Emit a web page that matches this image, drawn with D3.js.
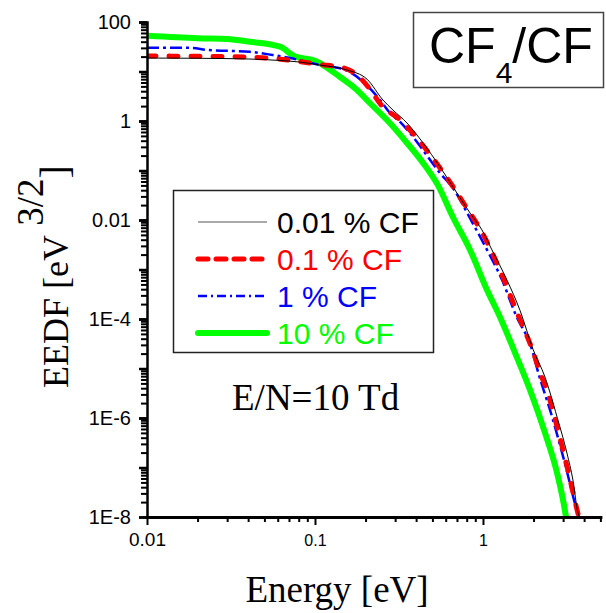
<!DOCTYPE html>
<head>
<meta charset="utf-8">

<script src="https://cdn.jsdelivr.net/npm/d3@7"></script>

<style>
body { margin: 0; background: #fff; }

.axis path,
.axis line {
    fill: none;
    stroke: #000;
}

.curve {
    fill: none;
}
</style>
<body>

<div id="my_dataviz"></div>

<script>

// EEDF curves (energy in eV, EEDF in eV^-3/2)
var energy001 = [0.01, 0.02, 0.04, 0.06, 0.08, 0.107, 0.155, 0.204, 0.254, 0.291, 0.353, 0.44, 0.555, 0.70, 0.838, 0.986, 1.13, 1.39, 1.66, 1.99, 2.34, 2.76, 3.16, 3.43, 3.68, 3.76];
var eedf001   = [18.7, 18.5, 17.9, 16.8, 15.6, 13.5, 10.7, 7.0, 2.65, 1.67, 0.91, 0.36, 0.118, 0.035, 0.0138, 6.3e-3, 2.5e-3, 6.1e-4, 1.5e-4, 2.4e-5, 6.7e-6, 1.05e-6, 1.96e-7, 5.6e-8, 1.2e-8, 1e-8];

var energy01 = [0.01, 0.02, 0.04, 0.06, 0.08, 0.107, 0.141, 0.178, 0.212, 0.248, 0.321, 0.394, 0.555, 0.653, 0.76, 1.03, 1.30, 1.59, 1.99, 2.18, 2.40, 2.79, 3.2, 3.63, 3.72];
var eedf01   = [20.5, 20.3, 19.5, 18.0, 16.0, 13.8, 12.3, 8.5, 4.43, 2.1, 1.05, 0.50, 0.112, 0.051, 0.023, 4.3e-3, 7.7e-4, 1.38e-4, 2.15e-5, 8.5e-6, 3.7e-6, 5.8e-7, 8.9e-8, 1.4e-8, 1e-8];

var energy1 = [0.01, 0.018, 0.023, 0.041, 0.056, 0.071, 0.107, 0.147, 0.244, 0.279, 0.321, 0.367, 0.555, 0.662, 0.861, 1.057, 1.30, 1.55, 1.99, 2.1, 2.58, 3.07, 3.67, 3.74];
var eedf1   = [30.3, 30.0, 27.2, 25.0, 21.5, 18.7, 13.5, 11.2, 2.65, 1.45, 0.955, 0.573, 0.089, 0.044, 9.1e-3, 2.5e-3, 6.1e-4, 1.32e-4, 2.0e-5, 1.0e-5, 1.05e-6, 1.23e-7, 1.2e-8, 1e-8];

var energy10 = [0.01, 0.02, 0.03, 0.041, 0.062, 0.074, 0.103, 0.141, 0.178, 0.212, 0.279, 0.353, 0.44, 0.54, 0.662, 0.838, 1.057, 1.262, 1.59, 1.905, 2.34, 2.76, 3.07, 3.12];
var eedf10   = [52.8, 47.0, 45.5, 40.0, 31.7, 21.0, 15.8, 7.74, 4.23, 2.31, 0.912, 0.36, 0.142, 0.05, 0.0115, 2.48e-3, 3.86e-4, 1.1e-4, 1.7e-5, 3.7e-6, 5.0e-7, 7.8e-8, 1.4e-8, 1e-8];

var seriesNames = ["0.01 % CF", "0.1 % CF", "1 % CF", "10 % CF"];

// tick labels
var xTickValues = [0.01, 0.1, 1];
var xTickLabels = ["0.01", "0.1", "1"];
var yTickValues = [100, 1, 0.01, 1e-4, 1e-6, 1e-8];
var yTickLabels = ["100", "1", "0.01", "1E-4", "1E-6", "1E-8"];

// line styles per series
var styles = [
    {color: "#000000", width: 1,   dash: null,       legendDash: null},
    {color: "#ff0000", width: 5,   dash: "9,13",     legendDash: "10,8"},
    {color: "#0000ff", width: 2.5, dash: "12,4,3,4", legendDash: "9,4,2,4"},
    {color: "#00ff00", width: 6,   dash: null,       legendDash: null}
];

var series = [
    {energy: energy001, eedf: eedf001},
    {energy: energy01,  eedf: eedf01},
    {energy: energy1,   eedf: eedf1},
    {energy: energy10,  eedf: eedf10}
];

var width = 606, height = 613;

// scales (log-log)
var x = d3.scaleLog().domain([0.01, 5]).range([147, 600.4]);
var y = d3.scaleLog().domain([1e-8, 100]).range([517, 22]);

var svg = d3.select("#my_dataviz").append("svg")
    .attr("width", width)
    .attr("height", height);

// clip so the curves stop at the axes
svg.append("defs").append("clipPath")
    .attr("id", "clip")
  .append("rect")
    .attr("x", 148)
    .attr("y", 10)
    .attr("width", 460)
    .attr("height", 506);

var line = d3.line()
    .x(function(d) { return x(d[0]); })
    .y(function(d) { return y(d[1]); })
    .curve(d3.curveMonotoneX);

// draw curves, the thick green first so the others lie on it
var order = [3, 2, 1, 0];
order.forEach(function(i) {
    var s = series[i];
    var pts = s.energy.map(function(e, j) { return [e, s.eedf[j]]; });
    svg.append("path")
        .datum(pts)
        .attr("class", "curve")
        .attr("clip-path", "url(#clip)")
        .attr("d", line)
        .style("stroke", styles[i].color)
        .style("stroke-width", styles[i].width)
        .style("stroke-dasharray", styles[i].dash)
        .style("stroke-linecap", i == 1 ? "round" : "butt");
});

// minor tick values (2..9 in each decade)
var xMinor = [], yMinor = [];
[0.01, 0.1, 1].forEach(function(p) {
    for (var m = 2; m <= 9; m++) if (p * m <= 5.0001) xMinor.push(p * m);
});
for (var k = -8; k < 2; k++) {
    for (var m = 2; m <= 9; m++) yMinor.push(m * Math.pow(10, k));
}
var yMajor = [];
for (var k = -8; k <= 2; k++) yMajor.push(Math.pow(10, k));

// X axis: minor ticks, then major ticks with labels
svg.append("g")
    .attr("class", "axis")
    .attr("transform", "translate(0,517)")
    .call(d3.axisBottom(x).tickValues(xMinor).tickSize(5).tickSizeOuter(0).tickFormat(""))
    .call(function(g) { g.select(".domain").remove(); })
    .selectAll("line").style("stroke-width", 2);

var xAxis = svg.append("g")
    .attr("class", "axis")
    .attr("transform", "translate(0,517)")
    .call(d3.axisBottom(x)
        .tickValues(xTickValues)
        .tickSize(8)
        .tickSizeOuter(0)
        .tickFormat(function(d, i) { return xTickLabels[i]; }))
    .attr("font-family", "Liberation Sans")
    .attr("font-size", 16);
xAxis.select(".domain").style("stroke-width", 3).style("stroke-linecap", "square");
xAxis.selectAll("line").style("stroke-width", 2);
xAxis.selectAll("text")
    .attr("y", 29)
    .attr("dy", null)
    .attr("font-size", function(d, i) { return i == 0 ? 19 : 16; })
    .attr("fill", "#000");

// Y axis: minor ticks, decade ticks, labelled ticks
svg.append("g")
    .attr("class", "axis")
    .attr("transform", "translate(147,0)")
    .call(d3.axisLeft(y).tickValues(yMinor).tickSize(6).tickSizeOuter(0).tickFormat(""))
    .call(function(g) { g.select(".domain").remove(); })
    .selectAll("line").style("stroke-width", 2);

svg.append("g")
    .attr("class", "axis")
    .attr("transform", "translate(147,0)")
    .call(d3.axisLeft(y).tickValues(yMajor).tickSize(8).tickSizeOuter(0).tickFormat(""))
    .call(function(g) { g.select(".domain").remove(); })
    .selectAll("line").style("stroke-width", 2.5);

var yAxis = svg.append("g")
    .attr("class", "axis")
    .attr("transform", "translate(147,0)")
    .call(d3.axisLeft(y)
        .tickValues(yTickValues)
        .tickSize(8)
        .tickPadding(8)
        .tickSizeOuter(0)
        .tickFormat(function(d, i) { return yTickLabels[i]; }))
    .attr("font-family", "Liberation Sans")
    .attr("font-size", 20);
yAxis.select(".domain").style("stroke-width", 2.5).style("stroke-linecap", "square");
yAxis.selectAll("line").style("stroke-width", 2.5);
yAxis.selectAll("text").attr("fill", "#000");

// X axis title
svg.append("text")
    .attr("x", 337)
    .attr("y", 602)
    .style("text-anchor", "middle")
    .style("font-family", "Liberation Serif, Times New Roman")
    .style("font-size", "37px")
    .text("Energy [eV]");

// Y axis title with superscript
var yTitle = svg.append("text")
    .attr("transform", "translate(68,388) rotate(-90)")
    .style("font-family", "Liberation Serif, Times New Roman")
    .style("font-size", "36px");
yTitle.append("tspan").text("EEDF [eV");
yTitle.append("tspan").attr("dy", -25).style("font-size", "37px").text("\u00a03/2");
yTitle.append("tspan").attr("dy", 25).style("font-size", "40px").text("]");

// condition label
svg.append("text")
    .attr("x", 232)
    .attr("y", 410)
    .style("font-family", "Liberation Serif, Times New Roman")
    .style("font-size", "37px")
    .text("E/N=10 Td");

// CF4/CF box
svg.append("rect")
    .attr("x", 413.5)
    .attr("y", 12.5)
    .attr("width", 190)
    .attr("height", 75)
    .style("fill", "#fff")
    .style("stroke", "#444")
    .style("stroke-width", 1.5);

var gas = svg.append("text")
    .attr("x", 429)
    .attr("y", 63)
    .style("font-family", "Liberation Sans, Arial")
    .style("font-size", "50px");
gas.append("tspan").text("CF");
gas.append("tspan").attr("dy", 20).style("font-size", "30px").text("4");
gas.append("tspan").attr("dy", -20).text("/CF");

// legend
svg.append("rect")
    .attr("x", 173.5)
    .attr("y", 190.5)
    .attr("width", 260)
    .attr("height", 162)
    .style("fill", "#fff")
    .style("stroke", "#222")
    .style("stroke-width", 1.5);

var rowY = d3.scaleLinear().domain([0, 1]).range([222, 259]);

seriesNames.forEach(function(name, i) {
    svg.append("line")
        .attr("x1", 198)
        .attr("x2", 267)
        .attr("y1", rowY(i))
        .attr("y2", rowY(i))
        .style("stroke", i == 0 ? "#555" : styles[i].color)
        .style("stroke-width", styles[i].width)
        .style("stroke-dasharray", styles[i].legendDash)
        .style("stroke-linecap", i == 1 || i == 3 ? "round" : "butt");

    svg.append("text")
        .attr("x", 277)
        .attr("y", rowY(i) + 11)
        .style("font-family", "Liberation Sans, Arial")
        .style("font-size", "30px")
        .style("fill", styles[i].color)
        .text(name);
});

</script>
</body>
